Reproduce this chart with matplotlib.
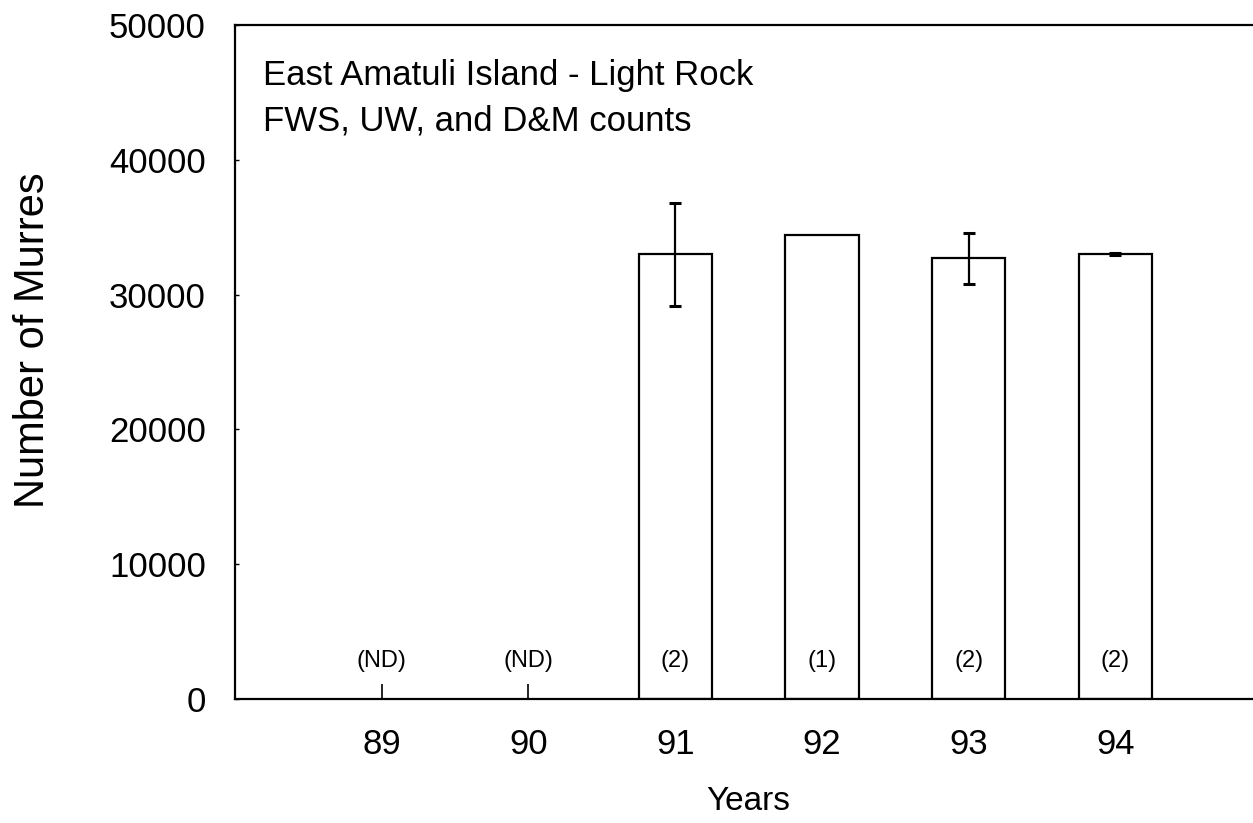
import matplotlib.pyplot as plt
import numpy as np

plt.rcParams['font.family'] = ['Liberation Sans', 'DejaVu Sans']

# data
years = [89, 90, 91, 92, 93, 94]
year_labels = ['89', '90', '91', '92', '93', '94']
bar_years = [91, 92, 93, 94]
murres = [33000, 34400, 32700, 33000]
errors = [3820, 0, 1900, 100]
n_counts = ['(ND)', '(ND)', '(2)', '(1)', '(2)', '(2)']

fig = plt.figure(figsize=(12.53, 8.23), dpi=100)
ax = fig.add_axes([0.1876, 0.1507, 0.8196, 0.819])

ax.bar(bar_years, murres, width=0.5, color='white', edgecolor='black', linewidth=1.6, zorder=2)
ax.errorbar([y for y, e in zip(bar_years, errors) if e > 0],
            [m for m, e in zip(murres, errors) if e > 0],
            yerr=[e for e in errors if e > 0],
            fmt='none', ecolor='black', elinewidth=1.6, capsize=4, capthick=2.2, zorder=3)

for yr, lab in zip(years, n_counts):
    ax.text(yr, 2800, lab, ha='center', va='center', fontsize=17)

ax.set_xlim(88, 95)
ax.set_ylim(0, 50000)
ax.set_xticks(years)
ax.set_xticklabels(year_labels)
ax.set_yticks(np.arange(0, 50001, 10000))
ax.tick_params(axis='x', direction='in', length=11, width=1.2, pad=21, labelsize=25)
ax.tick_params(axis='y', direction='in', length=3, width=1.0, pad=21, labelsize=25)

for side in ['left', 'top', 'bottom']:
    ax.spines[side].set_linewidth(1.6)
ax.spines['right'].set_visible(False)

ax.set_xlabel('Years', fontsize=24, labelpad=18)
ax.set_ylabel('Number of Murres', fontsize=30)
ax.yaxis.set_label_coords(-0.177, 0.533)

ax.text(0.027, 0.95, 'East Amatuli Island - Light Rock\nFWS, UW, and D&M counts',
        transform=ax.transAxes, ha='left', va='top', fontsize=25, linespacing=1.5)

fig.savefig('out.png', dpi=100)
